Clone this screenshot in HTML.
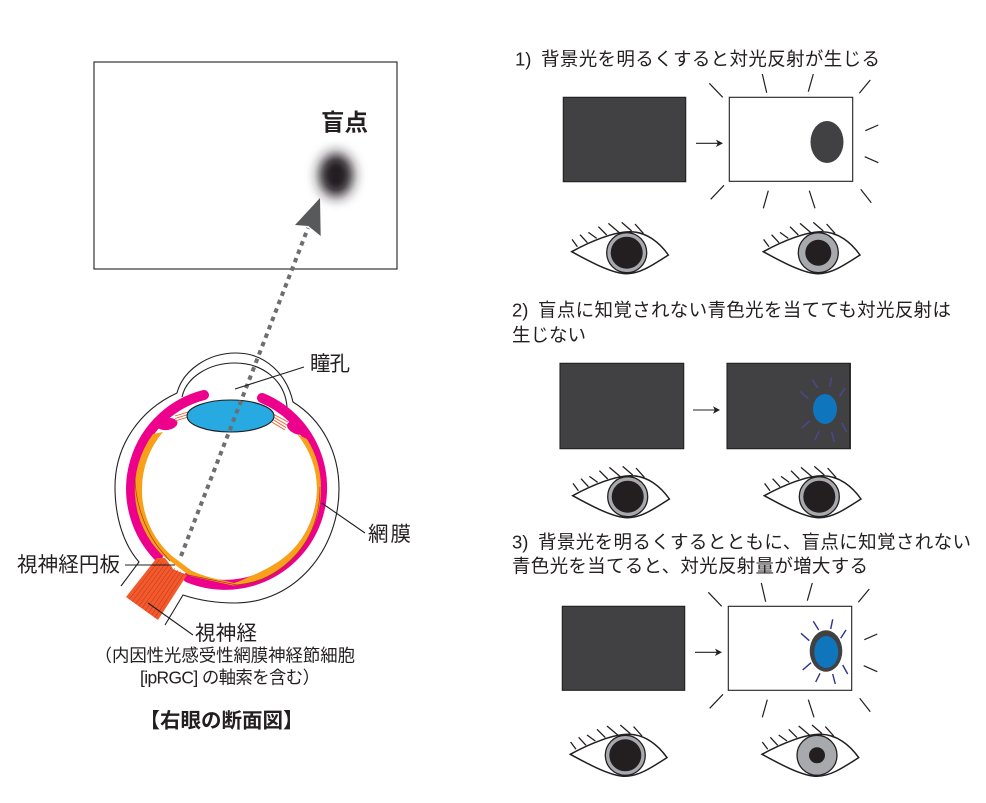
<!DOCTYPE html>
<html lang="ja">
<head>
<meta charset="utf-8">
<title>盲点と対光反射</title>
<style>
html,body{margin:0;padding:0;background:#fff;}
svg{display:block;}
text{font-family:"Liberation Sans","Noto Sans CJK JP",sans-serif;fill:#231f20;}
.t{font-size:18.5px;}
.l{font-size:20.5px;}
.s{font-size:17.4px;}
.b{font-size:20.5px;font-weight:bold;}
.k{stroke:#231f20;stroke-width:1.1;fill:none;}
.r{stroke:#231f20;stroke-width:1.2;fill:none;}
.bl{stroke:#2e3192;stroke-width:1.4;fill:none;}
.bd{stroke:#4a4888;stroke-width:1.6;fill:none;}
.d{fill:#414042;stroke:#231f20;stroke-width:1.1;}
.w{fill:#fff;stroke:#231f20;stroke-width:1.1;}
</style>
</head>
<body>
<svg width="986" height="803" viewBox="0 0 986 803" xmlns="http://www.w3.org/2000/svg">
<defs>
  <filter id="blur" x="-100%" y="-100%" width="300%" height="300%"><feGaussianBlur stdDeviation="6.500"/></filter>
  <g id="lid">
    <path d="M-55,-1C-35,-12 -12,-21 3,-21C20,-21 33,-10 41.7,2.3C28,11 14,21 0,21C-14,21 -35,10 -55,-1Z" fill="#fff" stroke="#231f20" stroke-width="1.5"/>
    <path d="M-49.3,-6L-54.7,-13.3M-39.3,-10L-46.7,-18M-30,-14.3L-38.3,-20.3M-20,-17.7L-28.3,-26M-7.3,-20L-18.3,-29.3M5,-21.7L-5,-30.3M16.7,-19.3L8.3,-28.7" stroke="#231f20" stroke-width="1.3" fill="none"/>
    <circle r="20" fill="#a7a9ac" stroke="#231f20" stroke-width="1.3"/>
  </g>
  <g id="raysW" class="r">
    <path d="M709.3,83.3L722.7,97.3M762.3,74L766.7,92.7M813.3,74L808.3,91.7M870.3,80L859.3,93.3M878.3,125L865.3,130.7M878.3,162.7L864.7,156.7M871.3,202.7L860.7,189.3M815,208.3L809.3,190.7M763.3,208.3L768.3,190.7M710.7,199.3L724,185.3"/>
  </g>
  <path id="bluerays" d="M832.7,619.3L830.7,629M813.3,621.3L818.7,630M846,630L840.7,638.3M801,633.3L809.3,640.7M802.7,670L811,662.7M815.7,682L820,673.3M835.3,684L832.7,674M847.7,674L842.7,665"/>
  <path id="ah" d="M-7,-3.7L0,0L-7,3.7L-5.2,0Z" fill="#231f20"/>
</defs>

<!-- left field -->
<rect x="94" y="62" width="303" height="207" class="w"/>
<ellipse cx="336" cy="175" rx="17" ry="22" fill="#231f20" filter="url(#blur)"/>
<ellipse cx="336" cy="175" rx="7" ry="10" fill="#231f20" filter="url(#blur)"/>
<text x="321" y="130.5" style="font-size:23.5px;font-weight:bold" textLength="47" lengthAdjust="spacing">盲点</text>

<!-- eye outer -->
<path d="M121,586L139,562C124,545 115,518 115,487C115,445 140,410 177,393C183,370 208,353 236,353C266,353 287,375 293,402C322,420 339,452 339,489C339,550 295,603 235,603C215,603 198,600 183,595L165,625" fill="none" stroke="#231f20" stroke-width="1.1"/>
<path d="M182,397C186,378 208,363 235,363C262,363 285,380 287,407" fill="none" stroke="#231f20" stroke-width="1.1"/>

<!-- pink ring -->
<path d="M204,395A97,97 0 0 0 158,556" fill="none" stroke="#ec008c" stroke-width="10" stroke-linecap="round"/>
<path d="M188,577.500A97,97 0 1 0 262,398" fill="none" stroke="#ec008c" stroke-width="10" stroke-linecap="round"/>
<!-- orange retina -->
<path d="M153,434A93,93 0 0 0 162,555L190,576L233,585.500C275,584 321,545 321,489A93,93 0 0 0 307,439L297,434A87.500,87.500 0 0 1 317,489A87.500,87.500 0 0 1 287,555C272,568 255,574 240,581L234,583L226,581Q208,578 192,571L172,556A87.500,87.500 0 0 1 142,489A87.500,87.500 0 0 1 163,432Z" fill="#f9a01b"/>
<path d="M135,477C135,505 147,535 163,553L170,561M188,575L237,585C262,582 285,572 300,550C314,532 320,510 320,487" fill="none" stroke="#a03a1a" stroke-width=".7"/>
<!-- ciliary -->
<ellipse cx="167" cy="424" rx="10.500" ry="6" transform="rotate(-8 167 424)" fill="#ec008c"/>
<ellipse cx="297" cy="428" rx="10.500" ry="6" transform="rotate(22 297 428)" fill="#ec008c"/>
<path d="M175,416L188,412M175,418.500L188,414.500M175,421L188,417M273,414L288,422M272.500,416.500L287,425M272,419L286,427.500M271,421.500L285,430" stroke="#f15a29" stroke-width=".9" fill="none"/>
<!-- lens -->
<ellipse cx="230.500" cy="416" rx="43.500" ry="16" fill="#27aae1" stroke="#231f20" stroke-width="1.1"/>
<!-- nerve -->
<path d="M126,597L158,620L187,575L173.300,569.300L165,558L156.700,558Z" fill="#f15a29"/>
<path d="M129.200,599.300L159.700,559.700M132.400,601.600L162.800,561.400M135.600,603.900L165.800,563.100M138.800,606.200L168.800,564.800M142,608.500L171.900,566.500M145.200,610.800L174.900,568.200M148.400,613.100L177.900,569.900M151.600,615.400L180.900,571.600M154.800,617.700L184,573.300" stroke="#c1272d" stroke-width=".5" fill="none"/>

<!-- dotted ray and arrow -->
<line x1="181" y1="556" x2="308" y2="228" stroke="#6d6e71" stroke-width="4" stroke-dasharray="4.500 4.500"/>
<path d="M320,198L295,225L308.300,226L320.700,236Z" fill="#58595b"/>

<!-- leaders -->
<path class="k" d="M235,389L304,367M321.700,503L365,533M125,565L175,565M148,603L193,635"/>

<!-- left labels -->
<text class="l" x="310" y="370.500" textLength="40" lengthAdjust="spacing">瞳孔</text>
<text class="l" x="368" y="541" textLength="43" lengthAdjust="spacing">網膜</text>
<text class="l" x="17" y="571.500" textLength="103" lengthAdjust="spacing">視神経円板</text>
<text class="l" x="195" y="640" textLength="62" lengthAdjust="spacing">視神経</text>
<text class="s" x="94.600" y="661.500" textLength="260.400" lengthAdjust="spacing">（内因性光感受性網膜神経節細胞</text>
<text class="s" x="140" y="683.500" textLength="180" lengthAdjust="spacing">[ipRGC] の軸索を含む）</text>
<text class="b" x="139.500" y="727.500" textLength="164" lengthAdjust="spacing">【右眼の断面図】</text>

<!-- right headings -->
<text class="t" x="515" y="65.500">1)</text>
<text class="t" x="541" y="65.500" textLength="339" lengthAdjust="spacing">背景光を明るくすると対光反射が生じる</text>
<text class="t" x="512" y="316.500">2)</text>
<text class="t" x="538" y="316.500" textLength="413" lengthAdjust="spacing">盲点に知覚されない青色光を当てても対光反射は</text>
<text class="t" x="512" y="341.500" textLength="74" lengthAdjust="spacing">生じない</text>
<text class="t" x="512" y="548.500">3)</text>
<text class="t" x="538" y="548.500" textLength="433" lengthAdjust="spacing">背景光を明るくするとともに、盲点に知覚されない</text>
<text class="t" x="512" y="572.500" textLength="356" lengthAdjust="spacing">青色光を当てると、対光反射量が増大する</text>

<!-- row 1 -->
<rect x="563.300" y="97.300" width="122.400" height="84.400" class="d"/>
<rect x="729.300" y="97.300" width="123.400" height="84" class="w"/>
<ellipse cx="827" cy="142" rx="16.500" ry="21" fill="#414042"/>
<path class="k" d="M696,143.300L720,143.300"/><use href="#ah" x="723" y="143.300"/>
<use href="#raysW"/>
<use href="#lid" x="626.700" y="252.700"/><circle cx="626.700" cy="252.700" r="16" fill="#231f20"/>
<use href="#lid" x="818.300" y="252.700"/><circle cx="818.300" cy="252.700" r="13" fill="#231f20"/>

<!-- row 2 -->
<rect x="560" y="363.300" width="123.700" height="85.400" class="d"/>
<rect x="727" y="363.300" width="123.300" height="85.400" class="d"/>
<line x1="850" y1="363" x2="850" y2="449" stroke="#231f20" stroke-width="1.500"/>
<ellipse cx="825" cy="409" rx="12" ry="15" fill="#0f75bc"/>
<use href="#bluerays" class="bd" transform="translate(-1,-242)"/>
<path class="k" d="M693,410L717,410"/><use href="#ah" x="720" y="410"/>
<use href="#lid" x="627.700" y="496.700"/><circle cx="627.700" cy="496.700" r="16" fill="#231f20"/>
<use href="#lid" x="819.300" y="496.700"/><circle cx="819.300" cy="496.700" r="16" fill="#231f20"/>

<!-- row 3 -->
<rect x="562.300" y="606.300" width="122.400" height="84" class="d"/>
<rect x="728.300" y="606.300" width="123.400" height="84" class="w"/>
<ellipse cx="826" cy="651" rx="16.300" ry="20.700" fill="#414042"/>
<ellipse cx="826.300" cy="652" rx="12" ry="16" fill="#0f75bc"/>
<use href="#bluerays" class="bl"/>
<path class="k" d="M695,652.300L719,652.300"/><use href="#ah" x="722" y="652.300"/>
<use href="#raysW" transform="translate(-1,509)"/>
<use href="#lid" x="625.300" y="755.300"/><circle cx="625.300" cy="755.300" r="16" fill="#231f20"/>
<use href="#lid" x="817" y="755.300"/><circle cx="817" cy="755.300" r="8" fill="#231f20"/>
</svg>
</body>
</html>
